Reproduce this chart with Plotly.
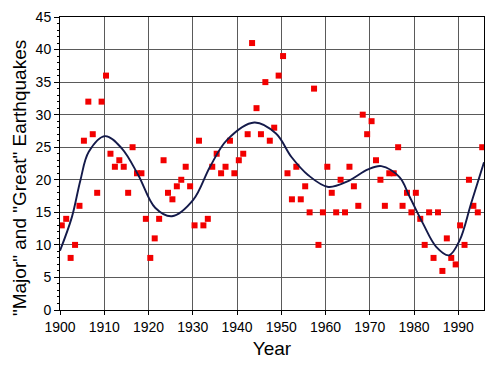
import plotly.graph_objects as go

years = list(range(1900, 1996))
counts = [13, 14, 8, 10, 16, 26, 32, 27, 18, 32,
          36, 24, 22, 23, 22, 18, 25, 21, 21, 14,
          8, 11, 14, 23, 18, 17, 19, 20, 22, 19,
          13, 26, 13, 14, 22, 24, 21, 22, 26, 21,
          23, 24, 27, 41, 31, 27, 35, 26, 28, 36,
          39, 21, 17, 22, 17, 19, 15, 34, 10, 15,
          22, 18, 15, 20, 15, 22, 19, 16, 30, 27,
          29, 23, 20, 16, 21, 21, 25, 16, 18, 15,
          18, 14, 10, 15, 8, 15, 6, 11, 8, 7,
          13, 10, 20, 16, 15, 25]

curve_years = [1900, 1902.7, 1904.6, 1906.5, 1910.2, 1914, 1917.7, 1921.5, 1925.3,
               1930.1, 1933.9, 1937.7, 1943.9, 1948.8, 1952.3, 1956.1, 1960.6,
               1965.1, 1969.6, 1972.6, 1976.7, 1979, 1982, 1985, 1987.9, 1990.3,
               1992.9, 1995.8]
curve_vals = [9.1, 14.3, 19.9, 24.3, 26.7, 24.8, 20.7, 15.7, 14.4,
              16.9, 22.0, 26.1, 28.8, 27.1, 23.5, 20.7, 18.9,
              19.8, 21.6, 22.1, 20.4, 17.4, 13.3, 9.7, 8.4, 10.7,
              16.4, 22.7]

x_ticks = list(range(1900, 1991, 10))
y_ticks = list(range(0, 46, 5))
y_title = '"Major" and "Great" Earthquakes'
x_title = "Year"

fig = go.Figure()
fig.add_trace(go.Scatter(
    x=[y + 0.4 for y in years], y=counts, mode="markers",
    marker=dict(symbol="square", size=6, color="#f20000", line=dict(width=0)),
    hoverinfo="x+y", showlegend=False))
fig.add_trace(go.Scatter(
    x=curve_years, y=curve_vals, mode="lines",
    line=dict(color="#141a4a", width=1.9, shape="spline", smoothing=1.0),
    showlegend=False))

# page body has an 8px default margin; size the figure so the plot lands where the original is
fig.update_layout(
    width=484, height=355,
    margin=dict(l=52, r=8, t=9, b=53),
    paper_bgcolor="white", plot_bgcolor="white",
    font=dict(family="Arial, Liberation Sans, sans-serif", color="black", size=14),
)
fig.add_annotation(
    text=y_title, textangle=-90, xref="paper", yref="paper",
    x=-0.097, y=0.45, xanchor="center", yanchor="middle", showarrow=False,
    font=dict(size=19, color="black"),
)
fig.update_xaxes(
    range=[1900, 1995.8], tickmode="array", tickvals=x_ticks,
    ticktext=[str(t) for t in x_ticks],
    showgrid=True, gridcolor="#5a5a5a", gridwidth=1,
    showline=True, linecolor="black", linewidth=1, mirror=True,
    ticks="outside", ticklen=4, tickcolor="black",
    tickfont=dict(size=14),
    title=dict(text=x_title, font=dict(size=19), standoff=7),
    zeroline=False, automargin=False,
)
fig.update_yaxes(
    range=[0, 45], tickmode="array", tickvals=y_ticks,
    showgrid=True, gridcolor="#5a5a5a", gridwidth=1,
    showline=True, linecolor="black", linewidth=1, mirror=True,
    ticks="outside", ticklen=5, tickcolor="black",
    minor=dict(dtick=1, ticks="outside", ticklen=2, tickcolor="black", showgrid=False),
    tickfont=dict(size=14),
    zeroline=False, automargin=False,
)

fig.write_html("out.html")
